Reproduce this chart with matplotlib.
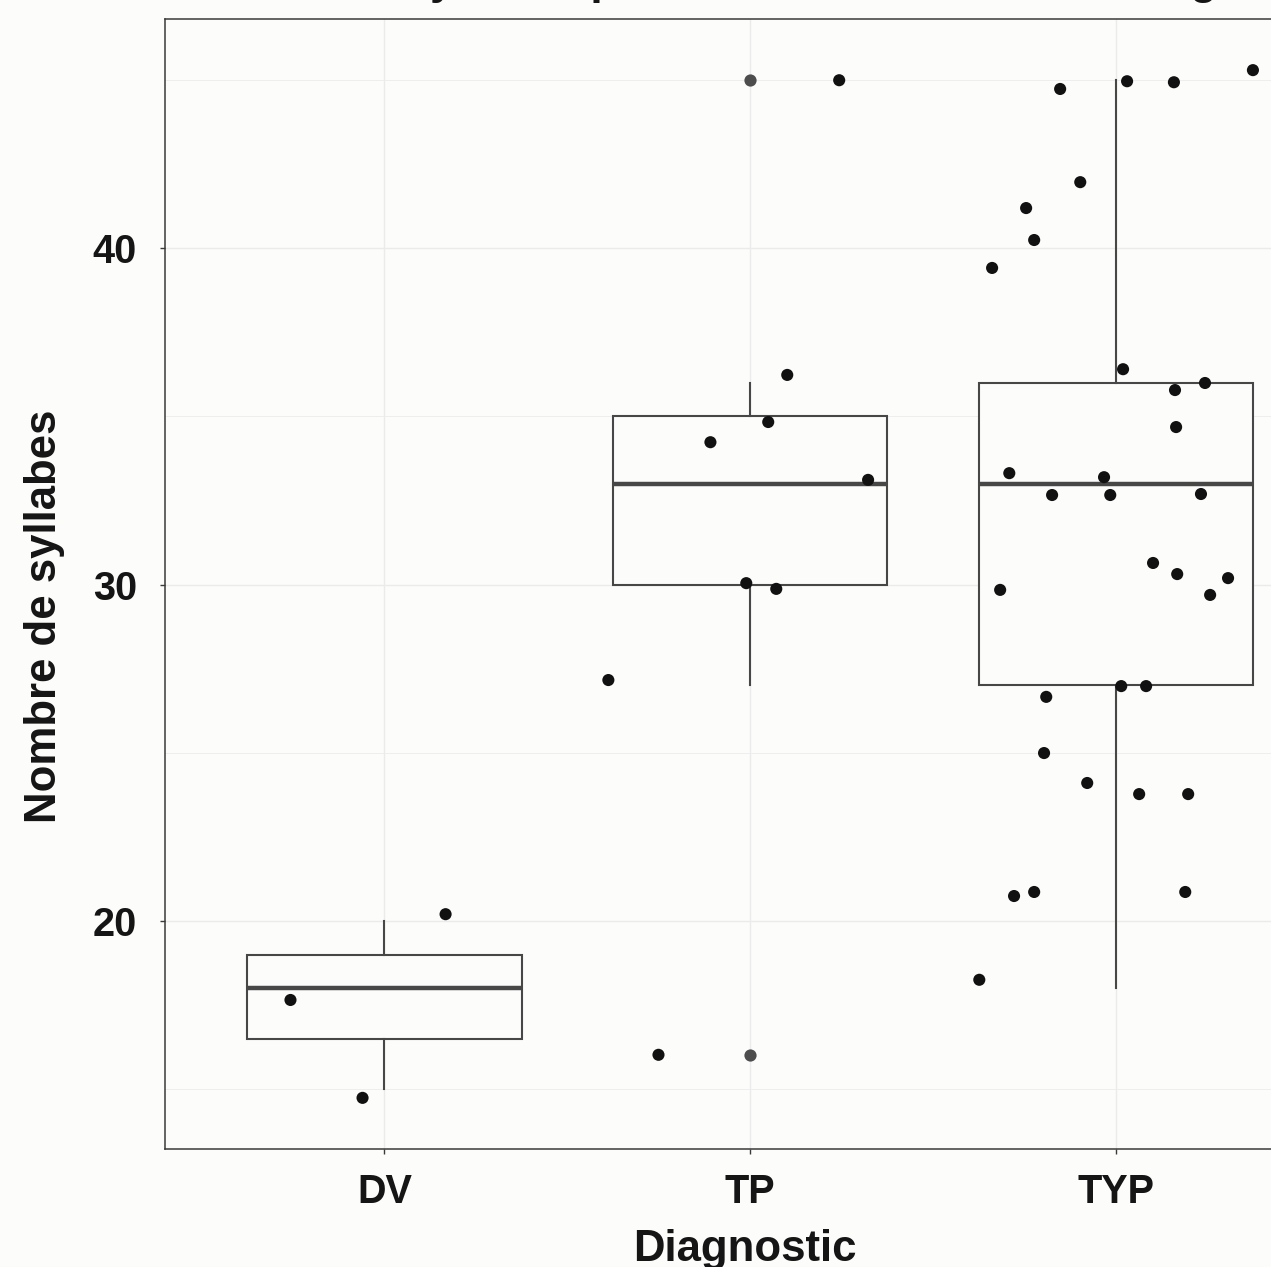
import matplotlib
matplotlib.use("Agg")
import matplotlib.pyplot as plt
from matplotlib.ticker import FixedLocator

# ---------------- data ----------------
categories = ["DV", "TP", "TYP"]

# boxplot statistics (per category)
box_q1 = [16.5, 30, 27]
box_median = [18, 33, 33]
box_q3 = [19, 35, 36]
whisker_lo = [15, 27, 18]
whisker_hi = [20, 36, 45]
outliers = [[], [16, 45], []]

# jittered points (value, horizontal jitter in category units)
dv_values = [17.65, 14.74, 20.2]
dv_jitter = [-0.257, -0.060, 0.167]

tp_values = [27.16, 16.02, 34.23, 30.04, 34.83, 29.87, 36.23, 44.99, 33.11]
tp_jitter = [-0.388, -0.251, -0.109, -0.011, 0.049, 0.071, 0.101, 0.243, 0.322]

typ_values = [45.29, 44.73, 44.96, 44.93, 41.96, 41.19, 40.24, 39.41, 36.40,
              35.78, 35.99, 34.68, 33.31, 33.19, 32.66, 32.66, 32.69, 30.64,
              30.31, 30.19, 29.84, 29.69, 26.98, 26.98, 26.66, 24.99, 24.10,
              23.77, 23.77, 20.86, 20.74, 20.86, 18.25]
typ_jitter = [0.374, -0.153, 0.030, 0.158, -0.098, -0.246, -0.224, -0.339, 0.019,
              0.161, 0.243, 0.164, -0.292, -0.033, -0.175, -0.016, 0.232, 0.101,
              0.167, 0.306, -0.317, 0.257, 0.014, 0.082, -0.191, -0.197, -0.079,
              0.063, 0.197, -0.224, -0.279, 0.189, -0.374]

y_major = [20, 30, 40]
y_minor = [15, 25, 35, 45]

title_text = "Nombre de syllabes par enfant en fonction du diagnostic"
x_title = "Diagnostic"
y_title = "Nombre de syllabes"

# ---------------- style ----------------
plt.rcParams['font.family'] = ['Liberation Sans', 'DejaVu Sans']
plt.rcParams['font.weight'] = 'bold'

BG = "#FCFCFA"
GRID = "#EBEBEB"
EDGE = "#474747"
SPINE = "#3A3A3A"
TXT = "#151515"

fig = plt.figure(figsize=(12.71, 12.67), dpi=100, facecolor=BG)
ax = fig.add_axes([165 / 1271, (1267 - 1149) / 1267, 1170.6 / 1271, 1130 / 1267])
ax.set_facecolor(BG)

positions = list(range(len(categories)))

stats = []
for i in positions:
    stats.append(dict(med=box_median[i], q1=box_q1[i], q3=box_q3[i],
                      whislo=whisker_lo[i], whishi=whisker_hi[i],
                      fliers=outliers[i]))

ax.bxp(stats, positions=positions, widths=0.75, showcaps=False,
       patch_artist=True,
       boxprops=dict(facecolor=BG, edgecolor=EDGE, linewidth=1.5),
       whiskerprops=dict(color=EDGE, linewidth=1.5),
       medianprops=dict(color=EDGE, linewidth=3.2, solid_capstyle='butt'),
       flierprops=dict(marker='o', markerfacecolor="#4D4D4D",
                       markeredgecolor='none', markersize=8.8),
       zorder=2)

groups = [(dv_values, dv_jitter), (tp_values, tp_jitter), (typ_values, typ_jitter)]
for i, (vals, jit) in enumerate(groups):
    xs = [positions[i] + j for j in jit]
    ax.scatter(xs, vals, s=76, color="#111111", edgecolors='none', zorder=3)

ax.set_xlim(-0.6, len(categories) - 0.4)
ax.set_ylim(13.22, 46.81)

ax.set_xticks(positions)
ax.set_xticklabels(categories)
ax.yaxis.set_major_locator(FixedLocator(y_major))
ax.yaxis.set_minor_locator(FixedLocator(y_minor))
ax.set_yticklabels([str(v) for v in y_major])

ax.set_axisbelow(True)
ax.grid(True, which='major', color=GRID, linewidth=1.0)
ax.grid(True, which='minor', axis='y', color=GRID, linewidth=0.55)

ax.tick_params(axis='both', which='major', direction='out', length=3.6,
               width=1.0, color=SPINE, labelcolor=TXT, labelsize=28.5)
ax.tick_params(axis='x', which='major', pad=14)
ax.tick_params(axis='y', which='major', pad=16.5)
ax.tick_params(axis='y', which='minor', length=0)
for lab in ax.get_xticklabels() + ax.get_yticklabels():
    lab.set_fontweight('bold')

for sp in ax.spines.values():
    sp.set_color(SPINE)
    sp.set_linewidth(1.1)

ax.set_xlabel(x_title, fontsize=31.5, fontweight='bold', color=TXT)
ax.set_ylabel(y_title, fontsize=31.5, fontweight='bold', color=TXT)
ax.xaxis.set_label_coords(0.4955, -0.0708)
ax.yaxis.set_label_coords(-0.0854, 0.4717)

fig.text(165 / 1271, 1 + 6 / 1267, title_text, fontsize=31.5, fontweight='bold',
         color=TXT, ha='left', va='baseline')

fig.savefig("out.png", dpi=100, facecolor=BG)
